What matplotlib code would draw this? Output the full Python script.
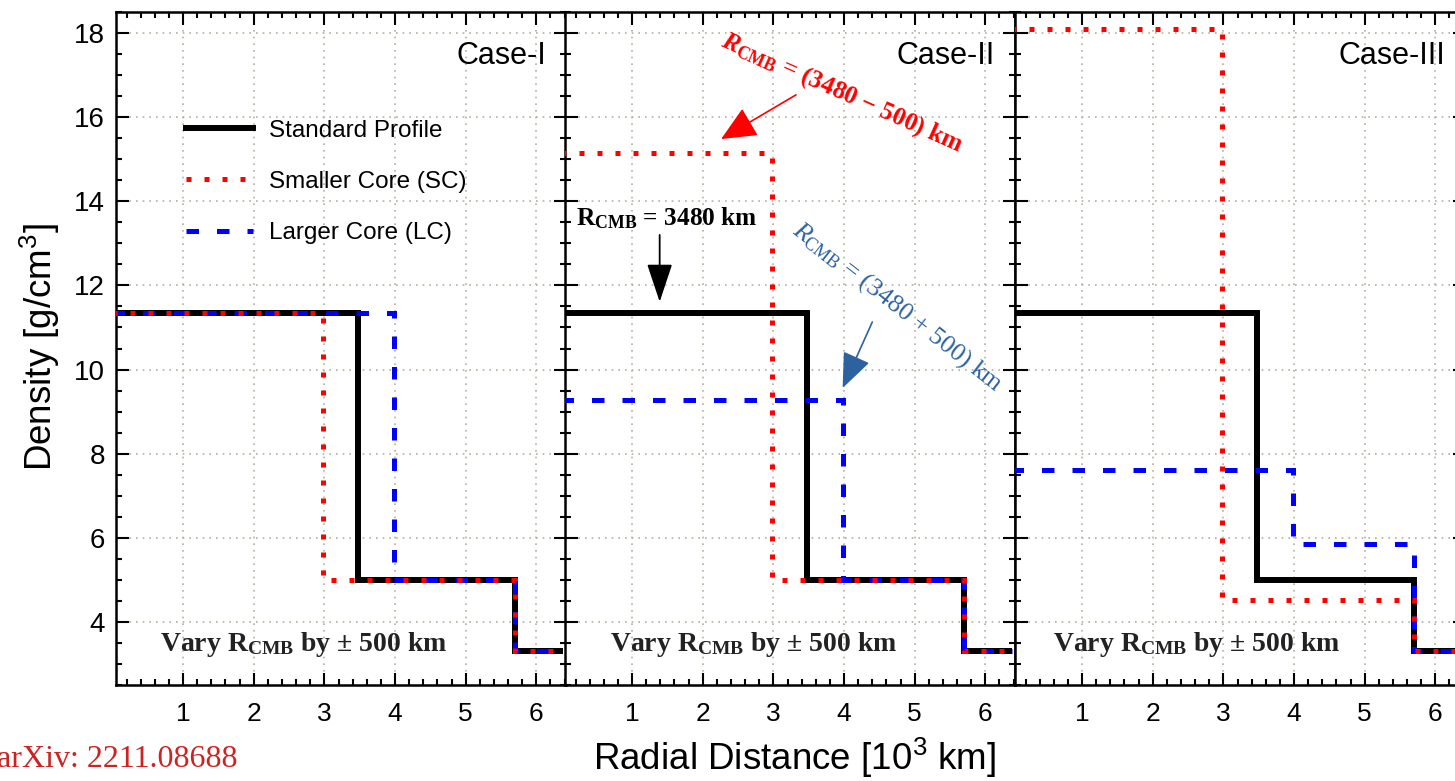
import matplotlib
matplotlib.use('Agg')
import matplotlib.pyplot as plt
from matplotlib.ticker import MultipleLocator

plt.rcParams['font.family'] = ['Liberation Sans', 'DejaVu Sans']
plt.rcParams['mathtext.fontset'] = 'custom'
plt.rcParams['mathtext.default'] = 'regular'
plt.rcParams['mathtext.it'] = 'Liberation Serif:italic'
plt.rcParams['mathtext.bfit'] = 'Liberation Serif:italic:bold'

# radii in 10^3 km, densities in g/cm^3
edges_std = [0.0, 3.48, 5.70, 6.371]
edges_sc = [0.0, 2.98, 5.70, 6.371]
edges_lc = [0.0, 3.98, 5.70, 6.371]

rho_std = [11.35, 5.0, 3.3]
case_names = ['Case-I', 'Case-II', 'Case-III']
rho_sc = [[11.35, 5.0, 3.3], [15.15, 5.0, 3.3], [18.1, 4.53, 3.3]]
rho_lc = [[11.35, 5.0, 3.3], [9.27, 5.0, 3.3], [7.6, 5.85, 3.3]]

xticks = [1, 2, 3, 4, 5, 6]
yticks = [4, 6, 8, 10, 12, 14, 16, 18]

fig = plt.figure(figsize=(14.55, 7.81), dpi=100)
lefts = [116 / 1455, 565 / 1455, 1015 / 1455]
w = 450 / 1455
bot = 1 - 685 / 781
h = 673 / 781
vary_x = [0.098, 0.099, 0.085]

axes = []
for i in range(3):
    ax = fig.add_axes([lefts[i], bot, w, h])
    axes.append(ax)
    ax.stairs(rho_std, edges_std, baseline=None, color='black', lw=4.3,
              label='Standard Profile', zorder=3)
    ax.stairs(rho_lc[i], edges_lc, baseline=None, color='#0000ff', lw=3.6,
              linestyle=(0, (2.5, 3.6)), label='Larger Core (LC)', zorder=4)
    ax.stairs(rho_sc[i], edges_sc, baseline=None, color='#ff0000', lw=3.6,
              linestyle=(0, (1, 2.6)), label='Smaller Core (SC)', zorder=5)

    ax.set_xlim(0.05, 6.42)
    ax.set_ylim(2.5, 18.5)
    ax.set_xticks(xticks)
    ax.set_yticks(yticks)
    ax.xaxis.set_minor_locator(MultipleLocator(0.2))
    ax.yaxis.set_minor_locator(MultipleLocator(0.5))
    ax.tick_params(which='both', direction='in', top=True, right=True, width=1.5)
    ax.tick_params(which='major', length=9)
    ax.tick_params(which='minor', length=4.5)
    ax.tick_params(axis='x', labelsize=19, pad=12)
    ax.tick_params(axis='y', labelsize=20, pad=8)
    if i > 0:
        ax.set_yticklabels([])
    for s in ax.spines.values():
        s.set_linewidth(1.8)
    ax.grid(True, which='major', color='#b8ada0', linestyle=(0, (1, 3)), lw=1.2)
    ax.set_axisbelow(True)

    ax.text(0.955, 0.935, case_names[i], transform=ax.transAxes, ha='right',
            va='center', fontsize=22)
    ax.text(vary_x[i], 0.06, r'Vary R$_{CMB}$ by ± 500 km', transform=ax.transAxes,
            ha='left', va='center', fontsize=20, fontweight='bold',
            family='Liberation Serif', color='#222222')

# legend in first panel
h_, l_ = axes[0].get_legend_handles_labels()
order = [0, 2, 1]
axes[0].legend([h_[k] for k in order], [l_[k] for k in order], loc='upper left',
               bbox_to_anchor=(0.155, 0.84), frameon=False, fontsize=17.5,
               handlelength=2.75, handletextpad=0.66, labelspacing=1.2,
               borderpad=0, borderaxespad=0)

# annotations in second panel
ax = axes[1]
ax.text(1.49, 13.6, r'R$_{CMB}$ = 3480 km', ha='center', va='center',
        fontsize=18.3, fontweight='bold', family='Liberation Serif')
ax.annotate('', xy=(1.39, 11.61), xytext=(1.39, 13.2),
            arrowprops=dict(arrowstyle='-|>,head_length=24,head_width=8',
                            mutation_scale=1, color='black', lw=1.3,
                            shrinkA=0, shrinkB=0), zorder=6)
ax.text(3.97, 16.57, r'$\mathbfit{R}_{CMB}$ = (3480 − 500) km', ha='center',
        va='center', rotation=-24, rotation_mode='anchor', fontsize=18.3,
        fontweight='bold', family='Liberation Serif', color='#ff0000')
ax.annotate('', xy=(2.26, 15.48), xytext=(3.32, 16.53),
            arrowprops=dict(arrowstyle='-|>,head_length=22,head_width=10',
                            mutation_scale=1, color='#ff0000', lw=1.2,
                            shrinkA=0, shrinkB=0), zorder=6)
ax.text(4.76, 11.49, r'$\mathit{R}_{CMB}$ = (3480 + 500) km', ha='center',
        va='center', rotation=-38, rotation_mode='anchor', fontsize=18.5,
        family='Liberation Serif', color='#2d62a0')
ax.annotate('', xy=(3.98, 9.56), xytext=(4.40, 11.13),
            arrowprops=dict(arrowstyle='-|>,head_length=22,head_width=9',
                            mutation_scale=1, color='#2d62a0', lw=1.2,
                            shrinkA=0, shrinkB=0), zorder=6)

fig.text(0.0275, 0.555, r'Density [g/cm$^3$]', rotation=90, ha='center',
         va='center', fontsize=26.5)
fig.text(0.546, 0.029, r'Radial Distance [10$^3$ km]', ha='center', va='center',
         fontsize=26.5)
fig.text(-0.002, 0.027, 'arXiv: 2211.08688', ha='left', va='center', fontsize=23,
         family='Liberation Serif', color='#cc2222')

fig.savefig('out.png', dpi=100)
